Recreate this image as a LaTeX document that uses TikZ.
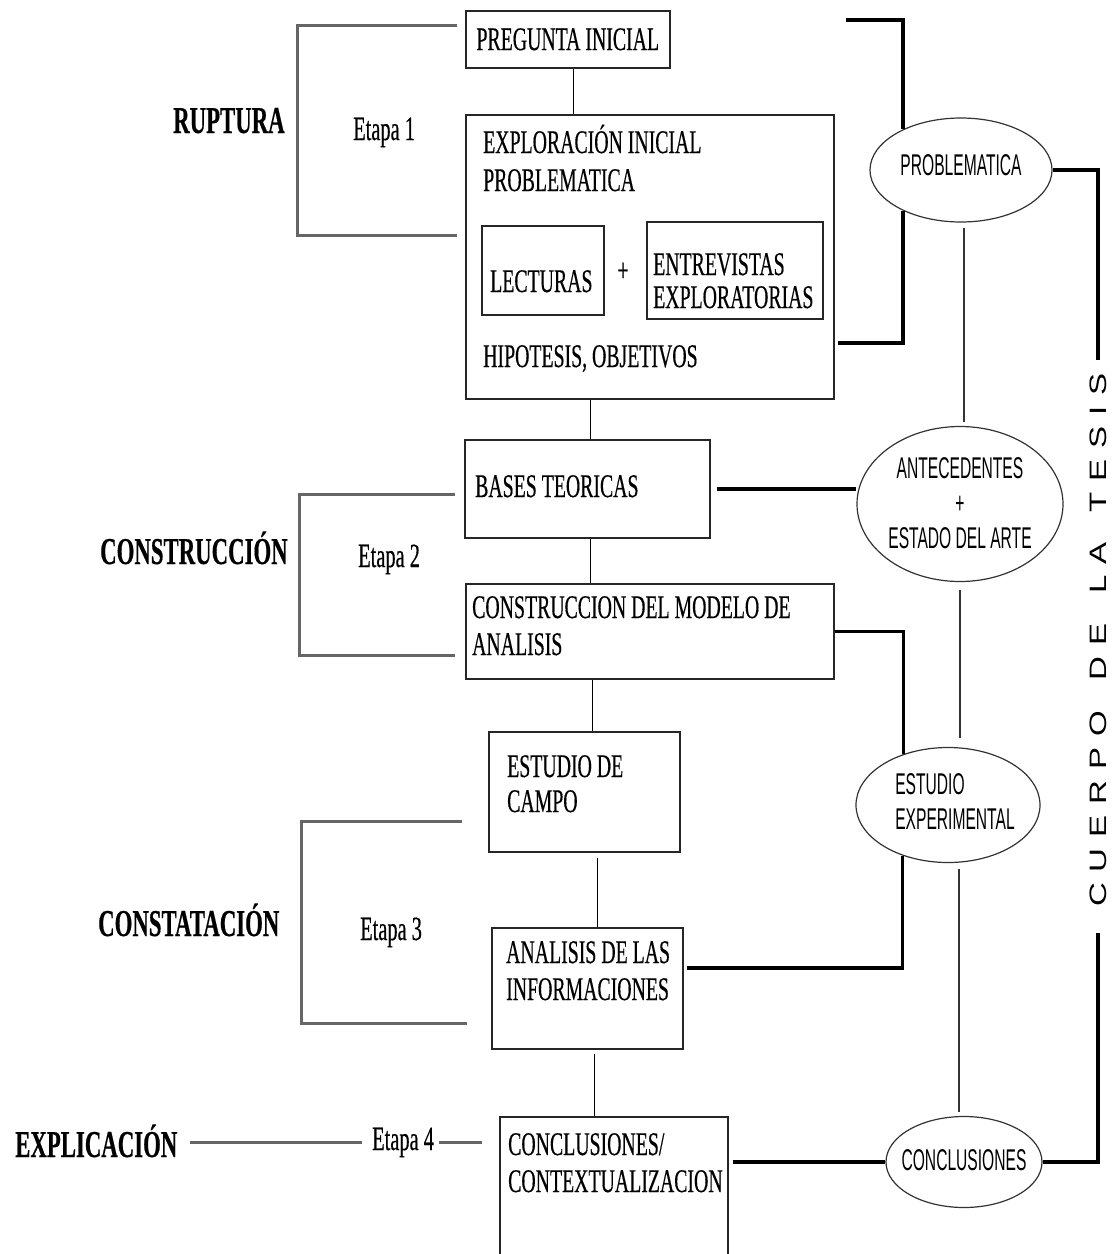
\documentclass[tikz,border=0pt]{standalone}
\usepackage{fontspec}
\usepackage{graphicx}
\usetikzlibrary{shapes.geometric,calc}
\newfontfamily\tnr[FakeStretch=0.6,FakeBold=0.4]{Liberation Serif}
\newfontfamily\ars[FakeStretch=0.52]{Liberation Sans}
\newfontfamily\arsv{Liberation Sans}
\newcommand{\ls}{\hspace{11pt}}
\newcommand{\ws}{\hspace{30pt}}
\begin{document}
\begin{tikzpicture}[x=1pt,y=-1pt,
 box/.style={draw=black!85, line width=1.6pt, rectangle, inner sep=0pt, anchor=north west},
 txt/.style={inner sep=0pt, anchor=base west, font=\tnr\fontsize{33}{37}\selectfont},
 lbl/.style={inner sep=0pt, anchor=base west, font=\tnr\bfseries\fontsize{38}{40}\selectfont},
 etapa/.style={inner sep=0pt, anchor=base west, font=\tnr\fontsize{34}{37}\selectfont},
 ell/.style={draw=black!80, line width=1.2pt, ellipse, inner sep=0pt},
 stxt/.style={inner sep=0pt, font=\ars\fontsize{30}{35}\selectfont},
 thinc/.style={draw=black, line width=1.3pt},
 thickc/.style={draw=black, line width=3.6pt},
 brk/.style={draw=black!60, line width=3pt},
 ellc/.style={draw=black!80, line width=1.2pt},
]
\fill[white] (0,0) rectangle (1114,1254);
\clip (0,0) rectangle (1114,1254);

% ---------- boxes ----------
\node[box, minimum width=204pt, minimum height=57pt, font=\tnr\fontsize{33}{37}\selectfont] (preg) at (465,10) {PREGUNTA INICIAL};
\node[box, minimum width=368pt, minimum height=284pt] (explo) at (465,114) {};
\node[box, minimum width=122pt, minimum height=89pt] (lect) at (481,225) {};
\node[box, minimum width=176pt, minimum height=97pt] (entr) at (646,221) {};
\node[box, minimum width=245pt, minimum height=98pt] (bases) at (464,439) {};
\node[box, minimum width=368pt, minimum height=95pt] (constr) at (465,583) {};
\node[box, minimum width=191pt, minimum height=120pt] (estudio) at (488,731) {};
\node[box, minimum width=191pt, minimum height=121pt] (anal) at (491,927) {};
\node[box, minimum width=228pt, minimum height=200pt] (concB) at (499,1116) {};

% ---------- box texts ----------
\node[txt] (t1) at (483,153) {EXPLORACIÓN INICIAL};
\node[txt] (t2) at (483,191) {PROBLEMATICA};
\node[txt] (t3) at (490,292) {LECTURAS};
\node[txt, anchor=center] (plus) at (623,272) {+};
\node[txt] (t4) at (653,275) {ENTREVISTAS};
\node[txt] (t5) at (653,308) {EXPLORATORIAS};
\node[txt] (t6) at (483,367) {HIPOTESIS, OBJETIVOS};
\node[txt] (t7) at (475,497) {BASES TEORICAS};
\node[txt] (t8) at (472,618) {CONSTRUCCION DEL MODELO DE};
\node[txt] (t9) at (472,655) {ANALISIS};
\node[txt] (t10) at (507,777) {ESTUDIO DE};
\node[txt] (t11) at (507,812) {CAMPO};
\node[txt] (t12) at (506,963) {ANALISIS DE LAS};
\node[txt] (t13) at (506,1000) {INFORMACIONES};
\node[txt] (t14) at (508,1155) {CONCLUSIONES/};
\node[txt] (t15) at (508,1192) {CONTEXTUALIZACION};

% ---------- left labels ----------
\node[lbl] (rup) at (173,133) {RUPTURA};
\node[etapa] (et1) at (353,140) {Etapa 1};
\node[lbl] (cons) at (100,564) {CONSTRUCCIÓN};
\node[etapa] (et2) at (358,567) {Etapa 2};
\node[lbl] (cont) at (98,936) {CONSTATACIÓN};
\node[etapa] (et3) at (360,940) {Etapa 3};
\node[lbl, text height=25pt, text depth=0pt] (expl) at (15,1157) {EXPLICACIÓN};
\node[etapa, text height=16pt, text depth=0pt] (et4) at (372,1150) {Etapa 4};

% ---------- ellipses ----------
\node[ell, minimum width=182pt, minimum height=104pt] (prob) at (961,170) {};
\node[stxt] at ([yshift=5pt]prob.center) {PROBLEMATICA};
\node[ell, minimum width=206pt, minimum height=155pt] (ant) at (960,504) {};
\node[stxt, align=center] at ([yshift=1pt]ant.center) {ANTECEDENTES\\+\\ESTADO DEL ARTE};
\node[ell, minimum width=184pt, minimum height=115pt] (est) at (948,805) {};
\node[stxt, align=left] at ([xshift=7pt,yshift=3pt]est.center) {ESTUDIO\\EXPERIMENTAL};
\node[ell, minimum width=156pt, minimum height=91pt] (conc) at (964,1162) {};
\node[stxt] at ([yshift=2pt]conc.center) {CONCLUSIONES};

% ---------- vertical title ----------
\node[rotate=90, inner sep=0pt] (cuerpo) at (1098,640) {\scalebox{1}[0.72]{\arsv\fontsize{33}{33}\selectfont C\ls U\ls E\ls R\ls P\ls O\ws D\ls E\ws L\ls A\ws T\ls E\ls S\ls I\ls S}};
\coordinate (cTop) at (1098,360);
\coordinate (cBot) at (1098,933);

% ---------- thin connectors between boxes ----------
\draw[thinc] ([xshift=6pt]preg.south) -- ([xshift=6pt]preg.south |- explo.north);
\draw[thinc] ([xshift=3.5pt]bases.north) -- ([xshift=3.5pt]bases.north |- explo.south);
\draw[thinc] ([xshift=3.5pt]bases.south) -- ([xshift=3.5pt]bases.south |- constr.north);
\draw[thinc] ([xshift=8.5pt]estudio.north) -- ([xshift=8.5pt]estudio.north |- constr.south);
\draw[thinc, shorten >=5pt] ([xshift=10.5pt]anal.north) -- ([xshift=10.5pt]anal.north |- estudio.south);
\draw[thinc, shorten >=4pt] ([xshift=-19pt]concB.north) -- ([xshift=-19pt]concB.north |- anal.south);

% ---------- left brackets ----------
\draw[brk] (457,25) -- (297,25) -- (297,235) -- (457,235);
\draw[brk] (455,494) -- (299,494) -- (299,655) -- (455,655);
\draw[brk] (462,821) -- (301,821) -- (301,1023) -- (467,1023);
\draw[brk] ([xshift=12pt]expl.east |- et4.west) -- ([xshift=-10pt]et4.west);
\draw[brk] ([xshift=5pt]et4.east) -- ([xshift=-17pt]concB.west |- et4.east);

% ---------- thick connectors (right side) ----------
\coordinate (rt1) at (846,20);
\coordinate (rb1) at (838,343);
\draw[thickc] (rt1) -| (prob.145);
\draw[thickc] (prob.215) |- (rb1);
\draw[thickc] (prob.east) -| (cTop);
\draw[thickc] (conc.east) -| (cBot);
\draw[thickc] ([xshift=6pt]bases.east) -- (ant.west |- bases.east);
\draw[thickc] (constr.east) -| (est.131.6);
\draw[thickc] (est.228.4) |- ($(anal.east)+(3,-20.5)$);
\draw[thickc] ([xshift=4pt]conc.west -| concB.east) -- (conc.west);

% ---------- thin connectors between ellipses ----------
\draw[ellc, shorten <=5pt, shorten >=4pt] ([xshift=3pt]prob.south) -- ([xshift=3pt]prob.south |- ant.north);
\draw[ellc, shorten <=8pt, shorten >=9pt] (ant.south) -- (ant.south |- est.north);
\draw[ellc, shorten <=6pt, shorten >=4pt] ([xshift=11pt]est.south) -- ([xshift=11pt]est.south |- conc.north);
\end{tikzpicture}
\end{document}
